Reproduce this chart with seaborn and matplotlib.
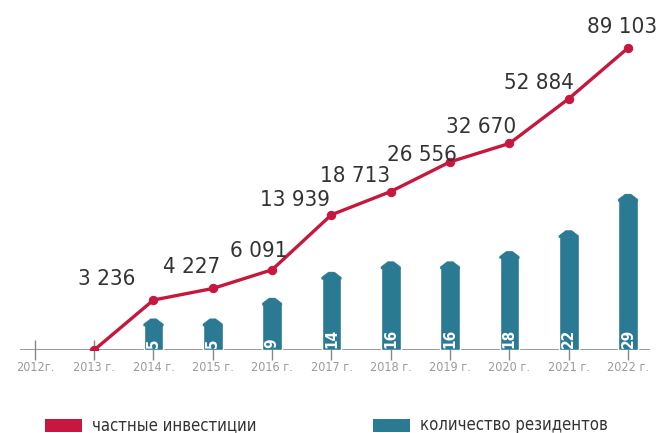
import numpy as np
import pandas as pd
import matplotlib
matplotlib.use("Agg")
import matplotlib.pyplot as plt
import seaborn as sns
from matplotlib.patches import Polygon, Rectangle

years = ["2012г.", "2013 г.", "2014 г.", "2015 г.", "2016 г.", "2017 г.",
         "2018 г.", "2019 г.", "2020 г.", "2021 г.", "2022 г."]
investments = [np.nan, 0, 3236, 4227, 6091, 13939, 18713, 26556, 32670, 52884, 89103]
residents = [np.nan, np.nan, 5, 5, 9, 14, 16, 16, 18, 22, 29]
legend_labels = ["частные инвестиции", "количество резидентов"]

RED = "#c8173f"
TEAL = "#2b7a93"

sns.set_theme(style="white")
plt.rcParams["font.family"] = ["DejaVu Sans"]
plt.rcParams["font.stretch"] = "condensed"

df = pd.DataFrame({"year": years, "inv": investments, "res": residents})

fig = plt.figure(figsize=(6.59, 4.33), dpi=100)
ax = fig.add_axes([20 / 659, 83 / 433, 630 / 659, 330 / 433])

sns.barplot(data=df, x="year", y="res", ax=ax, color=TEAL, width=0.33,
            saturation=1, order=years)
ax.set_ylim(0, 63.5)
ax.set_xlim(-0.25, 10.37)

# pointed tops + labels on bars
TIP = 1.0
for p in list(ax.patches):
    h = p.get_height()
    if not np.isfinite(h) or h <= 0:
        continue
    x0, w = p.get_x(), p.get_width()
    tip = Polygon([[x0, h - 0.4], [x0, h], [x0 + w * 0.35, h + TIP],
                   [x0 + w * 0.65, h + TIP], [x0 + w, h], [x0 + w, h - 0.4]],
                  closed=True, facecolor=TEAL, edgecolor=TEAL, lw=0.3)
    ax.add_patch(tip)
    ax.text(x0 + w / 2, 0.4, f"{int(round(h))}", rotation=90, color="white",
            fontsize=11, fontweight="bold", ha="center", va="bottom")

C = 5300.0
ax2 = ax.twinx()
ax2.set_yscale("function",
               functions=(lambda v: np.log1p(np.clip(v, 0, None) / C),
                          lambda y: C * np.expm1(y)))
sns.lineplot(x=np.arange(len(years)), y=investments, ax=ax2, color=RED,
             lw=2.4, marker="o", markersize=6, markeredgecolor=RED)
ax2.set_ylim(0, 117900)
ax2.set_xlim(-0.25, 10.37)

offsets = [None, None, (-47, 11), (-21, 11), (-13, 9), (-37, 5), (-36, 6),
           (-28, -3), (-28, 6), (-30, 6), (-6, 11)]
for i, (v, off) in enumerate(zip(investments, offsets)):
    if off is None or np.isnan(v):
        continue
    ax2.annotate(f"{int(v):,}".replace(",", " "), (i, v), xytext=off,
                 textcoords="offset pixels", ha="center", va="bottom",
                 fontsize=16, color="#333333")

for a in (ax, ax2):
    for s in a.spines.values():
        s.set_visible(False)
    a.set_yticks([])
    a.set_ylabel("")
    a.set_xlabel("")

ax.axhline(0, color="#888888", lw=1.2, zorder=0)
ax.set_xticks(range(len(years)))
ax.set_xticklabels(years, fontsize=9, color="#9a9a9a")
ax.tick_params(axis="x", direction="inout", length=14, width=1,
               color="#888888", pad=1, bottom=True)
ax2.tick_params(axis="x", bottom=False, labelbottom=False)

# legend at the bottom
fig.patches.append(Rectangle((45 / 659, 1 / 433), 37 / 659, 13 / 433,
                             transform=fig.transFigure, facecolor=RED,
                             edgecolor="none"))
fig.text(92 / 659, 8 / 433, legend_labels[0], fontsize=12, color="#333333",
         va="center", ha="left")
fig.patches.append(Rectangle((373 / 659, 1 / 433), 37 / 659, 13 / 433,
                             transform=fig.transFigure, facecolor=TEAL,
                             edgecolor="none"))
fig.text(420 / 659, 8 / 433, legend_labels[1], fontsize=12, color="#333333",
         va="center", ha="left")

fig.savefig("out.png", dpi=100)
